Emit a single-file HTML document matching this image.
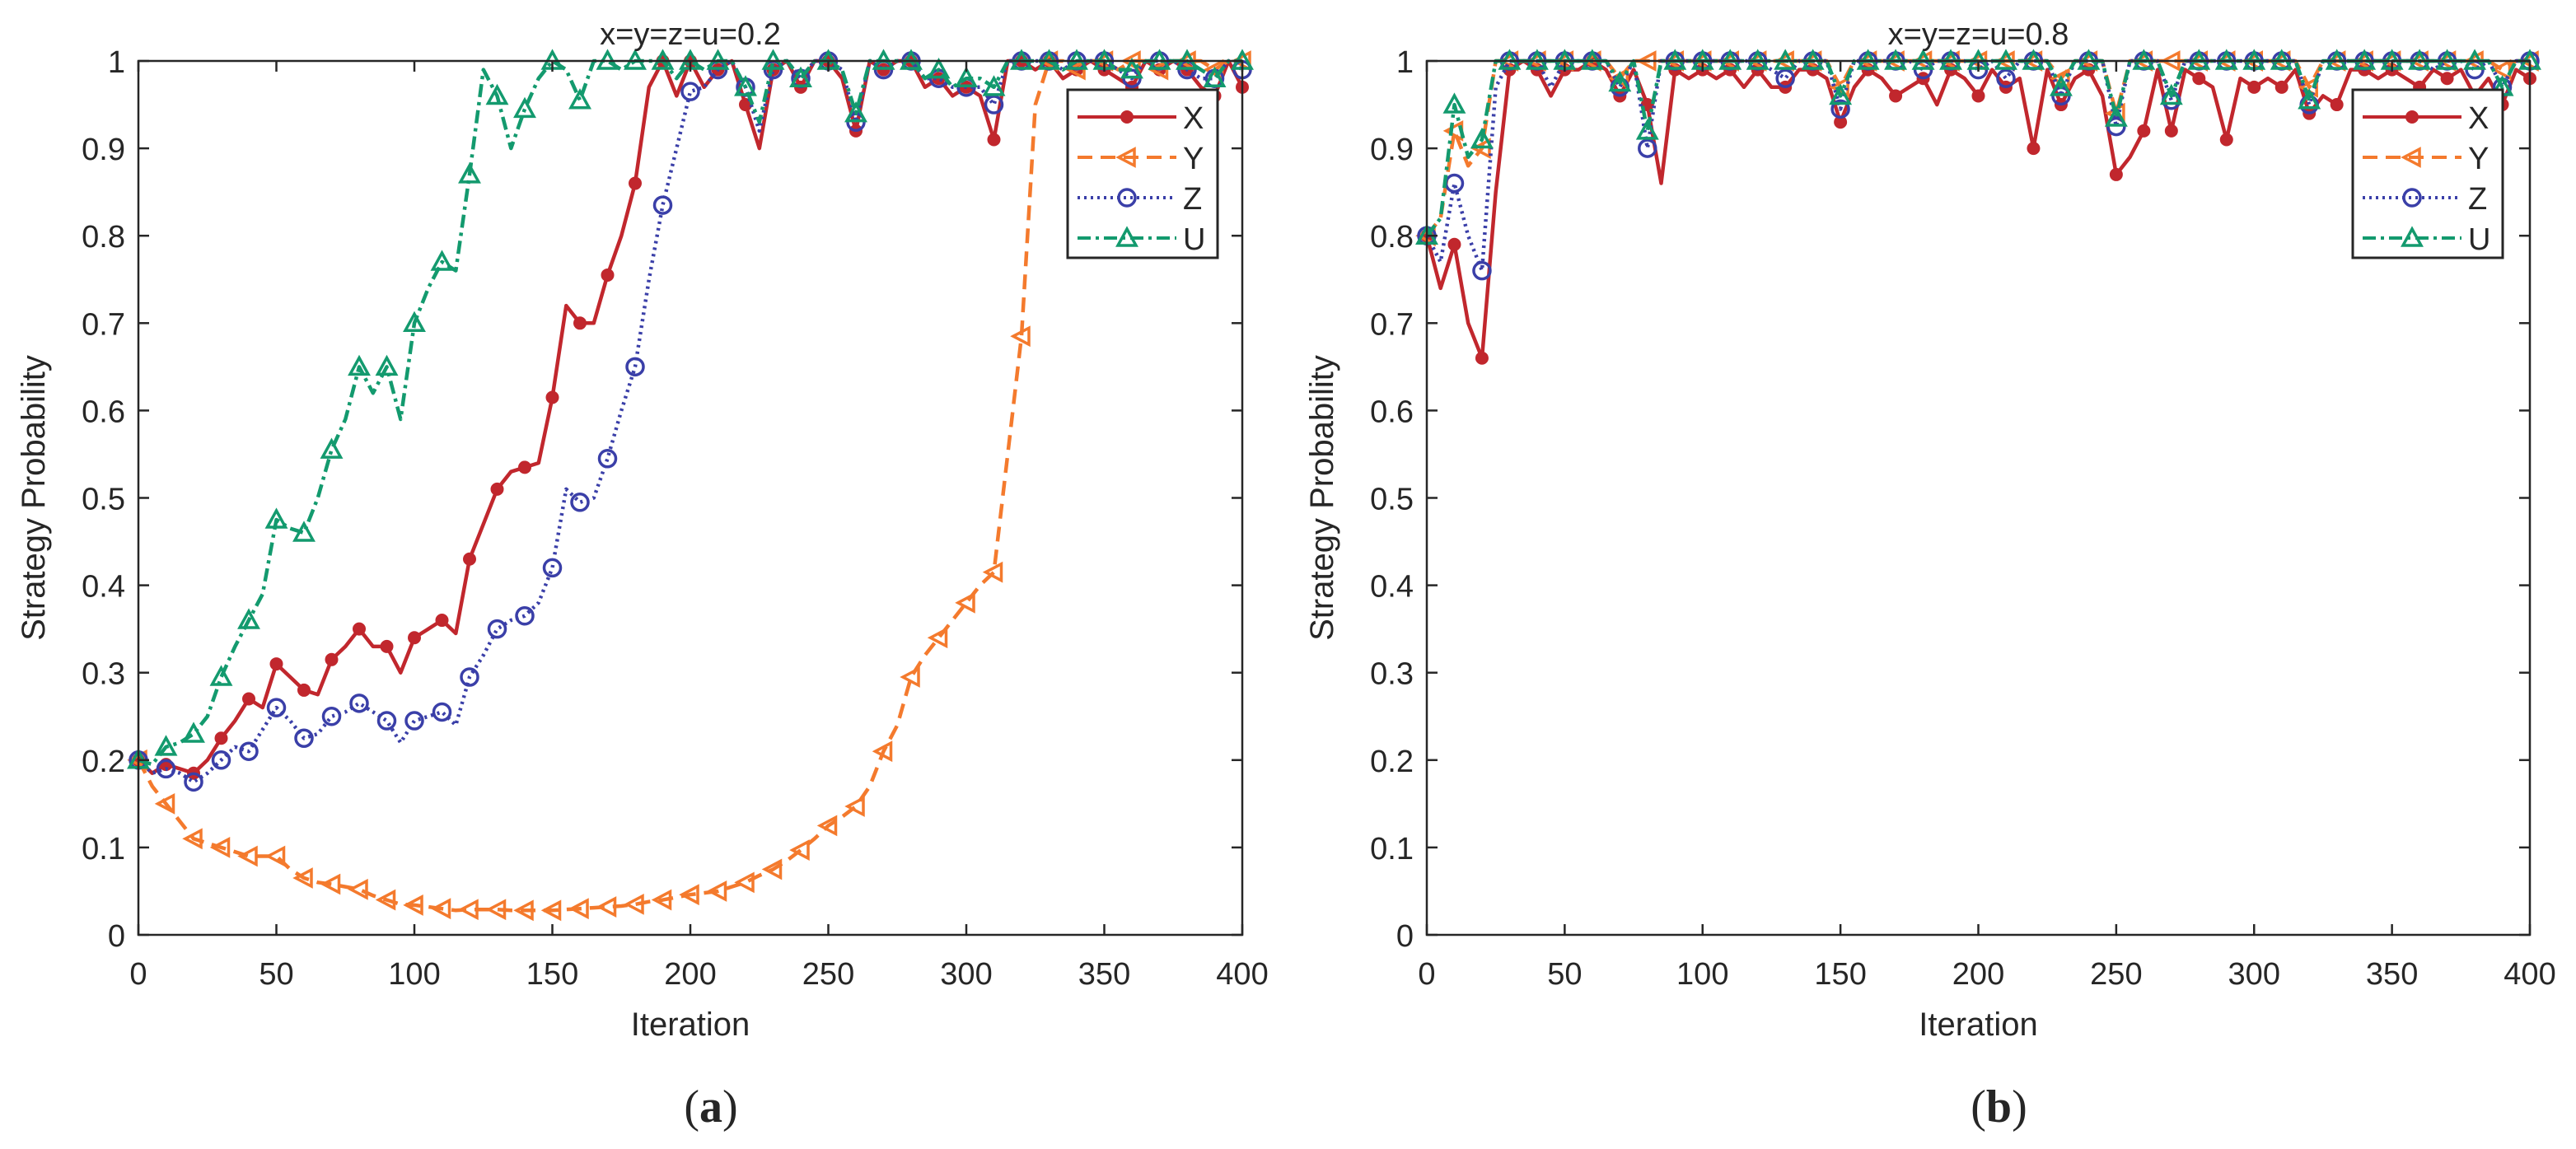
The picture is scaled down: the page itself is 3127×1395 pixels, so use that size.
<!DOCTYPE html>
<html><head><meta charset="utf-8"><style>
html,body{margin:0;padding:0;background:#fff;}
svg{display:block;}
text{font-family:"Liberation Sans",Arial,sans-serif;fill:#262626;}
</style></head><body>
<svg id="chart" width="3127" height="1395" viewBox="0 0 3127 1395" xmlns="http://www.w3.org/2000/svg">
<rect width="3127" height="1395" fill="#fff"/>
</svg>
<script>
// data sampled every 5 iterations (0..400)
const iterA = Array.from({length:81},(_,i)=>i*5);
const aX=[0.2,0.185,0.195,0.19,0.185,0.2,0.225,0.245,0.27,0.26,0.31,0.295,0.28,0.275,0.315,0.33,0.35,0.33,0.33,0.3,0.34,0.35,0.36,0.345,0.43,0.47,0.51,0.53,0.535,0.54,0.615,0.72,0.7,0.7,0.755,0.8,0.86,0.97,1,0.96,1,0.97,0.99,1,0.95,0.9,0.99,1,0.97,1,1,0.98,0.92,1,0.99,1,1,0.97,0.98,0.96,0.97,0.96,0.91,1,1,0.99,1,0.98,0.99,1,0.99,0.98,0.97,1,0.99,1,0.99,0.97,0.96,1,0.97];
const aY=[0.2,0.17,0.15,0.13,0.11,0.105,0.1,0.095,0.09,0.09,0.09,0.075,0.065,0.06,0.058,0.055,0.052,0.045,0.04,0.035,0.034,0.032,0.03,0.028,0.029,0.029,0.029,0.028,0.028,0.028,0.028,0.029,0.03,0.031,0.032,0.033,0.035,0.038,0.04,0.043,0.046,0.048,0.05,0.055,0.06,0.068,0.075,0.085,0.097,0.11,0.125,0.135,0.147,0.17,0.21,0.24,0.295,0.32,0.34,0.36,0.38,0.4,0.415,0.55,0.685,0.95,1,1,0.99,1,1,0.99,1,1,0.99,1,1,1,0.99,1,1];
const aZ=[0.2,0.185,0.19,0.185,0.175,0.185,0.2,0.215,0.21,0.235,0.26,0.245,0.225,0.23,0.25,0.255,0.265,0.255,0.245,0.22,0.245,0.25,0.255,0.24,0.295,0.32,0.35,0.36,0.365,0.38,0.42,0.51,0.495,0.5,0.545,0.6,0.65,0.75,0.835,0.9,0.965,0.97,0.99,1,0.97,0.92,0.99,1,0.98,1,1,0.99,0.93,1,0.99,1,1,0.98,0.98,0.97,0.97,0.97,0.95,1,1,1,1,0.99,1,1,1,0.99,0.98,1,1,1,0.99,0.98,0.98,1,0.99];
const aU=[0.2,0.195,0.215,0.22,0.23,0.25,0.295,0.33,0.36,0.39,0.475,0.465,0.46,0.5,0.555,0.59,0.65,0.62,0.65,0.59,0.7,0.74,0.77,0.76,0.87,0.99,0.96,0.9,0.945,0.98,1,0.99,0.955,1,1,0.99,1,1,1,0.98,1,0.99,1,1,0.97,0.93,1,1,0.98,1,1,0.99,0.94,1,1,1,1,0.98,0.99,0.97,0.98,0.98,0.97,1,1,1,1,0.99,1,1,1,0.99,0.99,1,1,1,1,0.99,0.98,1,1];
const bX=[0.8,0.74,0.79,0.7,0.66,0.85,0.99,1,0.99,0.96,0.99,0.99,1,0.99,0.96,0.99,0.95,0.86,0.99,0.98,0.99,0.98,0.99,0.97,0.99,0.97,0.97,0.99,0.99,0.98,0.93,0.97,0.99,0.98,0.96,0.97,0.98,0.95,0.99,0.98,0.96,0.99,0.97,0.98,0.9,0.99,0.95,0.98,0.99,0.96,0.87,0.89,0.92,0.99,0.92,0.99,0.98,0.97,0.91,0.98,0.97,0.98,0.97,0.99,0.94,0.96,0.95,0.99,0.99,0.98,0.99,0.98,0.97,0.99,0.98,0.99,0.96,0.98,0.95,0.99,0.98];
const bY=[0.8,0.82,0.92,0.88,0.9,1,1,1,1,1,1,1,1,1,0.98,1,1,1,1,1,1,1,1,1,1,1,1,1,1,1,0.97,1,1,1,1,1,1,1,1,1,1,1,1,1,1,1,0.98,1,1,1,0.94,1,1,1,1,1,1,1,1,1,1,1,1,1,0.97,1,1,1,1,1,1,1,1,1,1,1,1,1,0.99,1,1];
const bZ=[0.8,0.77,0.86,0.8,0.76,0.97,1,1,1,0.97,1,1,1,1,0.97,1,0.9,1,1,1,1,1,1,1,1,0.99,0.98,1,1,1,0.945,1,1,1,1,1,0.99,1,1,1,0.99,1,0.98,1,1,1,0.96,1,1,1,0.925,1,1,1,0.955,1,1,1,1,1,1,1,1,1,0.95,1,1,1,1,1,1,1,1,0.99,1,1,0.99,1,0.97,1,1];
const bU=[0.8,0.82,0.95,0.89,0.91,1,1,1,1,1,1,1,1,1,0.975,1,0.92,1,1,1,1,1,1,1,1,1,1,1,1,1,0.96,1,1,1,1,1,1,1,1,1,1,1,1,1,1,1,0.97,1,1,1,0.935,1,1,1,0.96,1,1,1,1,1,1,1,1,1,0.955,1,1,1,1,1,1,1,1,1,1,1,1,1,0.97,1,1];
const xTicks=[0,50,100,150,200,250,300,350,400];
const yTicks=[0,0.1,0.2,0.3,0.4,0.5,0.6,0.7,0.8,0.9,1];
const seriesNames=["X","Y","Z","U"];

const NS="http://www.w3.org/2000/svg";
const svg=document.getElementById('chart');
function mk(tag,attrs,parent){const e=document.createElementNS(NS,tag);for(const k in attrs)e.setAttribute(k,attrs[k]);(parent||svg).appendChild(e);return e;}
const styles={
 X:{c:"#c1272d",dash:"",m:"dot"},
 Y:{c:"#f47a2d",dash:"18 10",m:"tri"},
 Z:{c:"#3a3fa8",dash:"3 5",m:"circ"},
 U:{c:"#139a6e",dash:"16 6 4 6",m:"up"}
};
function marker(g,type,x,y,c){
 let e;
 if(type==="dot"){e=mk('circle',{cx:x,cy:y,r:7,fill:c,stroke:c,'stroke-width':2},g);}
 else if(type==="circ"){e=mk('circle',{cx:x,cy:y,r:10,fill:"none",stroke:c,'stroke-width':3.5},g);}
 else if(type==="tri"){e=mk('polygon',{points:`${x-10},${y} ${x+9},${y-10} ${x+9},${y+10}`,fill:"none",stroke:c,'stroke-width':3.5},g);}
 else {e=mk('polygon',{points:`${x},${y-11} ${x+11},${y+9} ${x-11},${y+9}`,fill:"none",stroke:c,'stroke-width':3.5},g);}
 
 
}
function panel(cfg){
 const {L,R,T,B,title,data,tag,lx,ly,id}=cfg;
 const g=mk('g',{});
 
 
 const sx=v=>L+(v/400)*(R-L);
 const sy=v=>B-v*(B-T);
 seriesNames.forEach((n,si)=>{
  const s=styles[n];const vals=data[si];
  const sg=mk('g',{},g);
  
  
  const pts=vals.map((v,i)=>sx(iterA[i]).toFixed(1)+","+sy(v).toFixed(1)).join(" ");
  const pl=mk('polyline',{points:pts,fill:"none",stroke:s.c,'stroke-width':4.5,'stroke-dasharray':s.dash,'stroke-linejoin':'round'},sg);
  
  
  vals.forEach((v,i)=>{if(i%2===0)marker(sg,s.m,sx(iterA[i]),sy(v),s.c);});
 });
 const box=mk('rect',{x:L,y:T,width:R-L,height:B-T,fill:"none",stroke:"#262626",'stroke-width':2.5},g);
 
 
 xTicks.forEach(t=>{
  const x=sx(t);
  mk('line',{x1:x,y1:B,x2:x,y2:B-13,stroke:"#262626",'stroke-width':2.5},g);
  mk('line',{x1:x,y1:T,x2:x,y2:T+13,stroke:"#262626",'stroke-width':2.5},g);
  const tx=mk('text',{x:x,y:B+60,'font-size':38,'text-anchor':'middle'},g);tx.textContent=t;
  
  
 });
 yTicks.forEach(t=>{
  const y=sy(t);
  mk('line',{x1:L,y1:y,x2:L+13,y2:y,stroke:"#262626",'stroke-width':2.5},g);
  mk('line',{x1:R,y1:y,x2:R-13,y2:y,stroke:"#262626",'stroke-width':2.5},g);
  const tx=mk('text',{x:L-16,y:y+14,'font-size':38,'text-anchor':'end'},g);tx.textContent=String(t);
  
  
 });
 const tt=mk('text',{x:(L+R)/2,y:T-20,'font-size':38,'text-anchor':'middle'},g);tt.textContent=title;
 
 
 const xl=mk('text',{x:(L+R)/2,y:B+122,'font-size':40,'text-anchor':'middle'},g);xl.textContent="Iteration";
 
 
 const yx=L-114,yy=(T+B)/2;
 const yl=mk('text',{x:yx,y:yy,'font-size':40,'text-anchor':'middle',transform:`rotate(-90 ${yx} ${yy})`},g);yl.textContent="Strategy Probability";
 
 
 const cap=mk('text',{x:(L+R)/2+25,y:1362,'font-size':56,'text-anchor':'middle',style:'font-family:"Liberation Serif",serif'},g);
 cap.innerHTML='(<tspan font-weight="bold">'+tag+'</tspan>)';
 
 
 const lg=mk('g',{},g);
 
 
 mk('rect',{x:lx,y:ly,width:182,height:204,fill:"#fff",stroke:"#262626",'stroke-width':3},lg);
 seriesNames.forEach((n,i)=>{
  const s=styles[n];const y=ly+33+i*49;
  const le=mk('g',{},lg);
  
  
  mk('line',{x1:lx+12,y1:y,x2:lx+132,y2:y,stroke:s.c,'stroke-width':4,'stroke-dasharray':s.dash},le);
  marker(le,s.m,lx+72,y,s.c);
  const t=mk('text',{x:lx+140,y:y+14,'font-size':38},le);t.textContent=n;
 });
}
panel({L:168,R:1508,T:74,B:1135,title:"x=y=z=u=0.2",data:[aX,aY,aZ,aU],tag:"a",lx:1296,ly:109,id:"panel-a"});
panel({L:1732,R:3071,T:74,B:1135,title:"x=y=z=u=0.8",data:[bX,bY,bZ,bU],tag:"b",lx:2856,ly:109,id:"panel-b"});
</script>
</body></html>
